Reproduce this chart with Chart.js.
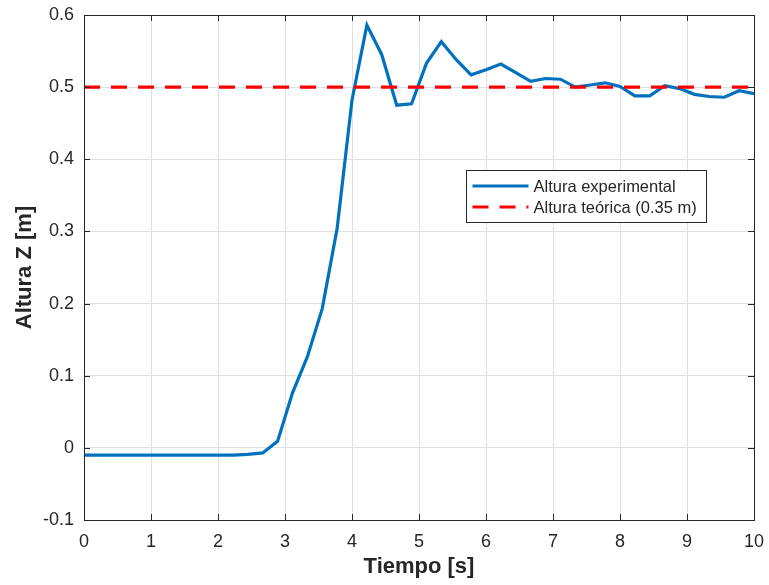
<!DOCTYPE html>
<html>
<head>
<meta charset="utf-8">
<title>Altura Z</title>
<script src="https://cdn.jsdelivr.net/npm/chart.js@4.4.1/dist/chart.umd.min.js"></script>
<style>
  body { margin: 0; background: #ffffff; }
  canvas { display: block; }
</style>
</head>
<body>
<canvas id="chart" width="769" height="585"></canvas>
<script>
// data (s, m)
const tiempo = [0, 0.222, 0.444, 0.667, 0.889, 1.111, 1.333, 1.556, 1.778, 2.0,
  2.222, 2.444, 2.667, 2.889, 3.111, 3.333, 3.556, 3.778, 4.0, 4.222,
  4.444, 4.667, 4.889, 5.111, 5.333, 5.556, 5.778, 6.0, 6.222, 6.444,
  6.667, 6.889, 7.111, 7.333, 7.556, 7.778, 8.0, 8.222, 8.444, 8.667,
  8.889, 9.111, 9.333, 9.556, 9.778, 10.0];
const alturaExp = [-0.010, -0.010, -0.010, -0.010, -0.010, -0.010, -0.010, -0.010, -0.010, -0.010,
  -0.010, -0.009, -0.007, 0.009, 0.076, 0.126, 0.193, 0.304, 0.482, 0.586,
  0.545, 0.475, 0.477, 0.533, 0.563, 0.538, 0.517, 0.524, 0.532, 0.520,
  0.508, 0.512, 0.511, 0.500, 0.503, 0.506, 0.501, 0.488, 0.488, 0.502,
  0.498, 0.490, 0.487, 0.486, 0.495, 0.491];
const tiempoRef = [0, 10];
const alturaRef = [0.5, 0.5];
const etiquetas = ['Altura experimental', 'Altura teórica (0.35 m)'];

const FONT = '"Liberation Sans", Arial, Helvetica, sans-serif';
const INK = '#262626';

// {{{ box + inward ticks, matlab style
const frame =
{
  id: 'frame',
  afterDatasetsDraw(chart)
  {
    const {ctx, chartArea: a, scales: {x, y}} = chart;
    ctx.save();
    ctx.strokeStyle = INK;
    ctx.lineWidth = 1;
    ctx.beginPath();
    x.ticks.forEach((t) =>
    {
      const px = Math.round(x.getPixelForValue(t.value)) + 0.5;
      ctx.moveTo(px, a.bottom); ctx.lineTo(px, a.bottom - 6);
      ctx.moveTo(px, a.top); ctx.lineTo(px, a.top + 6);
    });
    y.ticks.forEach((t) =>
    {
      const py = Math.round(y.getPixelForValue(t.value)) + 0.5;
      ctx.moveTo(a.left, py); ctx.lineTo(a.left + 6, py);
      ctx.moveTo(a.right, py); ctx.lineTo(a.right - 6, py);
    });
    ctx.stroke();
    ctx.strokeRect(Math.round(a.left) + 0.5, Math.round(a.top) + 0.5, Math.round(a.right - a.left), Math.round(a.bottom - a.top));
    ctx.restore();
  }
};
// }}}

// {{{ legend box inside the axes
const caja =
{
  id: 'caja',
  afterDraw(chart)
  {
    const {ctx, chartArea: a} = chart;
    const bx = Math.round(a.left + (a.right - a.left) * 0.570) + 0.5;
    const by = Math.round(a.top + (a.bottom - a.top) * 0.307) + 0.5;
    const bw = 240, bh = 52;
    ctx.save();
    ctx.fillStyle = '#ffffff';
    ctx.fillRect(bx, by, bw, bh);
    ctx.strokeStyle = INK;
    ctx.lineWidth = 1;
    ctx.strokeRect(bx, by, bw, bh);
    ctx.font = '16.5px ' + FONT;
    ctx.textBaseline = 'middle';
    chart.data.datasets.forEach((ds, i) =>
    {
      const ly = by + 15.5 + i * 21;
      ctx.strokeStyle = ds.borderColor;
      ctx.lineWidth = ds.borderWidth;
      ctx.setLineDash(ds.borderDash || []);
      ctx.beginPath();
      ctx.moveTo(bx + 6, ly);
      ctx.lineTo(bx + 62, ly);
      ctx.stroke();
      ctx.setLineDash([]);
      ctx.fillStyle = INK;
      ctx.fillText(ds.label, bx + 67, ly + 1);
    });
    ctx.restore();
  }
};
// }}}

new Chart(document.getElementById('chart'),
{
  type: 'line',
  data:
  {
    datasets:
    [
      {
        label: etiquetas[0],
        data: tiempo.map((t, i) => ({x: t, y: alturaExp[i]})),
        borderColor: '#0072BD',
        borderWidth: 3.2,
        pointRadius: 0,
        tension: 0,
        order: 2
      },
      {
        label: etiquetas[1],
        data: tiempoRef.map((t, i) => ({x: t, y: alturaRef[i]})),
        borderColor: '#ff0000',
        borderWidth: 3.2,
        borderDash: [16, 11],
        borderCapStyle: 'butt',
        pointRadius: 0,
        order: 1
      }
    ]
  },
  options:
  {
    responsive: false,
    animation: false,
    layout: {padding: {top: 15, right: 15, left: 0, bottom: 0}},
    plugins: {legend: {display: false}, tooltip: {enabled: false}},
    scales:
    {
      x:
      {
        type: 'linear',
        min: 0,
        max: 10,
        ticks: {stepSize: 1, color: INK, font: {family: FONT, size: 18}, padding: 11},
        grid: {color: '#e0e0e0', drawTicks: false},
        border: {display: false},
        title: {display: true, text: 'Tiempo [s]', color: INK, font: {family: FONT, size: 22, weight: 'bold'}, padding: {top: 0, bottom: 5}},
        // fixed size, no label overflow padding
        afterFit: (s) => { s.height = 65; s.paddingLeft = 0; s.paddingRight = 0; }
      },
      y:
      {
        type: 'linear',
        min: -0.1,
        max: 0.6,
        ticks: {stepSize: 0.1, color: INK, font: {family: FONT, size: 18}, padding: 10, callback: (v) => String(Number(v.toFixed(1)))},
        grid: {color: '#e0e0e0', drawTicks: false},
        border: {display: false},
        title: {display: true, text: 'Altura Z [m]', color: INK, font: {family: FONT, size: 22, weight: 'bold'}, padding: {top: 12, bottom: 0}},
        afterFit: (s) => { s.width = 84; s.paddingTop = 0; s.paddingBottom = 0; }
      }
    }
  },
  plugins: [frame, caja]
});
</script>
</body>
</html>
